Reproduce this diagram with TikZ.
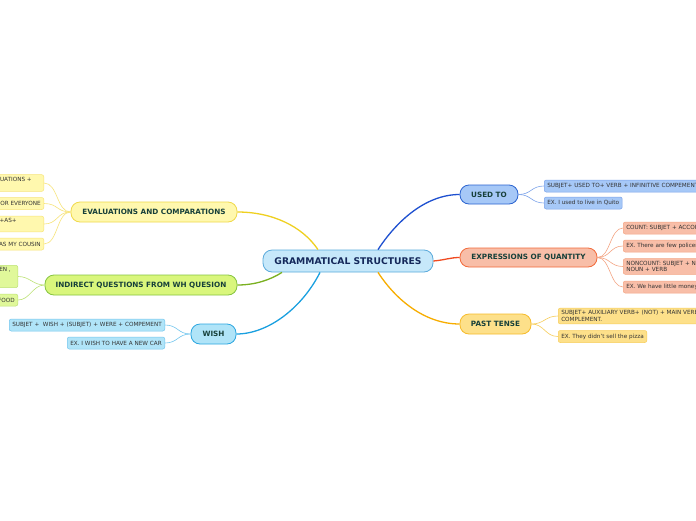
\documentclass[tikz,border=0pt]{standalone}
\usepackage{fontspec}
\setmainfont{DejaVu Sans}
\usetikzlibrary{calc}
\definecolor{ctext}{HTML}{14285A}
\definecolor{btext}{HTML}{17403A}
\definecolor{stext}{HTML}{333333}
\definecolor{cfill}{HTML}{C6E8FA}\definecolor{cdraw}{HTML}{5AAADB}
\definecolor{efill}{HTML}{FFF8AE}\definecolor{edraw}{HTML}{F0D94A}\definecolor{eline}{HTML}{EFD020}\definecolor{esub}{HTML}{F7E47A}
\definecolor{ifill}{HTML}{D9F67C}\definecolor{idraw}{HTML}{86C440}\definecolor{iline}{HTML}{7AB020}\definecolor{isub}{HTML}{BCE274}\definecolor{isfill}{HTML}{E0F89A}
\definecolor{wfill}{HTML}{B0E4F8}\definecolor{wdraw}{HTML}{2BA6E0}\definecolor{wline}{HTML}{1AA0E0}\definecolor{wsub}{HTML}{72C6EE}
\definecolor{ufill}{HTML}{A6C8F7}\definecolor{udraw}{HTML}{2A63D0}\definecolor{uline}{HTML}{1E50D0}\definecolor{usub}{HTML}{7AA2EA}
\definecolor{xfill}{HTML}{F8BEA8}\definecolor{xdraw}{HTML}{F26A3A}\definecolor{xline}{HTML}{F04A20}\definecolor{xsub}{HTML}{F4A584}
\definecolor{pfill}{HTML}{FDE08A}\definecolor{pdraw}{HTML}{F6BB2A}\definecolor{pline}{HTML}{F7AD00}\definecolor{psub}{HTML}{F7CD5A}
\tikzset{
  central/.style={draw=cdraw, fill=cfill, line width=0.8pt, rounded corners=9pt, text=ctext,
    font=\fontsize{9.2}{10}\selectfont\bfseries, minimum width=170pt, minimum height=22pt, inner sep=0pt},
  branch/.style={line width=0.8pt, rounded corners=9pt, text=btext,
    font=\fontsize{7.25}{8}\selectfont\bfseries, minimum height=20pt, inner sep=0pt},
  leaf/.style={line width=0.5pt, rounded corners=2pt, text=stext, align=left,
    font=\fontsize{5.7}{6.7}\selectfont, minimum height=12pt, inner xsep=3pt, inner ysep=2.3pt},
  leafl/.style={leaf, anchor=east, align=right},
  leafr/.style={leaf, anchor=west},
  mainline/.style={line width=1.3pt},
  subline/.style={line width=0.6pt}
}
\begin{document}
\begin{tikzpicture}[x=1pt,y=-1pt]
\path[use as bounding box, fill=white] (0,0) rectangle (696,520);
\clip (0,0) rectangle (696,520);
% central
\node[central] (c) at (348,261) {GRAMMATICAL STRUCTURES};
% branches
\node[branch, draw=edraw, fill=efill, minimum width=166pt] (ev) at (154,212) {EVALUATIONS AND COMPARATIONS};
\node[branch, draw=idraw, fill=ifill, minimum width=192pt] (iq) at (141,285) {INDIRECT QUESTIONS FROM WH QUESION};
\node[branch, draw=wdraw, fill=wfill, minimum width=45pt] (wi) at (213.5,334) {WISH};
\node[branch, draw=udraw, fill=ufill, minimum width=58pt, minimum height=19pt] (us) at (489,194.5) {USED TO};
\node[branch, draw=xdraw, fill=xfill, minimum width=137pt, minimum height=19pt] (ex) at (528.5,257.5) {EXPRESSIONS OF QUANTITY};
\node[branch, draw=pdraw, fill=pfill, minimum width=71pt] (pt) at (495.5,324) {PAST TENSE};
% main connectors
\draw[mainline, eline] ($(c.north)+(-30,0)$) .. controls (302,226) and (272,212) .. (ev.east);
\draw[mainline, iline] ($(c.south)+(-66,0)$) .. controls (270,280) and (255,285) .. (iq.east);
\draw[mainline, wline] ($(c.south)+(-28,0)$) .. controls (302,308) and (268,334) .. (wi.east);
\draw[mainline, uline] ($(c.north)+(30,0)$) .. controls (396,222) and (425,194.5) .. (us.west);
\draw[mainline, xline] (c.east) .. controls (445,260) and (450,257.5) .. (ex.west);
\draw[mainline, pline] ($(c.south)+(30,0)$) .. controls (396,300) and (425,324) .. (pt.west);
% evaluation leaves
\node[leafl, draw=esub, fill=efill] (e1) at (44,183) {SUBJET + VERB + TO BE + EVALUATIONS +\makebox[9pt]{}\\ ADJECTIVE + ENOUGH\makebox[90pt]{}};
\node[leafl, draw=esub, fill=efill] (e2) at (44,203.5) {EX. THE CAR IS NOT BIG ENOUGH FOR EVERYONE};
\node[leafl, draw=esub, fill=efill] (e3) at (44,224) {SUBJET + VERB + AS + ADJETIVE+AS+\makebox[24pt]{}\\ COMPLEMENT\makebox[90pt]{}};
\node[leafl, draw=esub, fill=efill] (e4) at (44,244) {EX. I AM AS TALL AS MY COUSIN};
\foreach \n in {e1,e2,e3,e4}
  \draw[subline, esub] (ev.west) .. controls ($(ev.west)+(-14,0)$) and ($(\n.east)+(14,0)$) .. (\n.east);
% indirect leaves
\node[leafl, draw=isub, fill=isfill] (i1) at (18,276.5) {SUBJET + VERB + WH QUESTION: WHAT, WHERE, WHEN ,\makebox[4pt]{}\\ SUBJET + VERB\makebox[90pt]{}\\ COMPLEMENT\makebox[90pt]{}};
\node[leafl, draw=isub, fill=isfill] (i2) at (18,300) {EX. CAN YOU TELL ME WHERE IS THE FOOD};
\foreach \n in {i1,i2}
  \draw[subline, isub] (iq.west) .. controls ($(iq.west)+(-12,0)$) and ($(\n.east)+(12,0)$) .. (\n.east);
% wish leaves
\node[leafl, draw=wsub, fill=wfill] (w1) at (165,325) {SUBJET + \ WISH + (SUBJET) + WERE + COMPEMENT};
\node[leafl, draw=wsub, fill=wfill] (w2) at (165,343) {EX. I WISH TO HAVE A NEW CAR};
\foreach \n in {w1,w2}
  \draw[subline, wsub] (wi.west) .. controls ($(wi.west)+(-13,0)$) and ($(\n.east)+(13,0)$) .. (\n.east);
% used to leaves
\node[leafr, draw=usub, fill=ufill] (u1) at (544,186) {SUBJET+ USED TO+ VERB + INFINITIVE COMPEMENT};
\node[leafr, draw=usub, fill=ufill] (u2) at (544,203) {EX. I used to live in Quito};
\foreach \n in {u1,u2}
  \draw[subline, usub] (us.east) .. controls ($(us.east)+(13,0)$) and ($(\n.west)+(-13,0)$) .. (\n.west);
% quantity leaves
\node[leafr, draw=xsub, fill=xfill] (x1) at (623,228) {COUNT: SUBJET + ACCORDING TO + NOUN};
\node[leafr, draw=xsub, fill=xfill] (x2) at (623,246) {EX. There are few policemen};
\node[leafr, draw=xsub, fill=xfill] (x3) at (623,266.5) {NONCOUNT: SUBJET + NOT MUCH +\\ NOUN + VERB};
\node[leafr, draw=xsub, fill=xfill] (x4) at (623,287) {EX. We have little money};
\foreach \n in {x1,x2,x3,x4}
  \draw[subline, xsub] (ex.east) .. controls ($(ex.east)+(13,0)$) and ($(\n.west)+(-13,0)$) .. (\n.west);
% past tense leaves
\node[leafr, draw=psub, fill=pfill] (p1) at (558,316) {SUBJET+ AUXILIARY VERB+ (NOT) + MAIN VERB +\\ COMPLEMENT.};
\node[leafr, draw=psub, fill=pfill] (p2) at (558,336.5) {EX. They didn't sell the pizza};
\foreach \n in {p1,p2}
  \draw[subline, psub] (pt.east) .. controls ($(pt.east)+(13,0)$) and ($(\n.west)+(-13,0)$) .. (\n.west);
\end{tikzpicture}
\end{document}
